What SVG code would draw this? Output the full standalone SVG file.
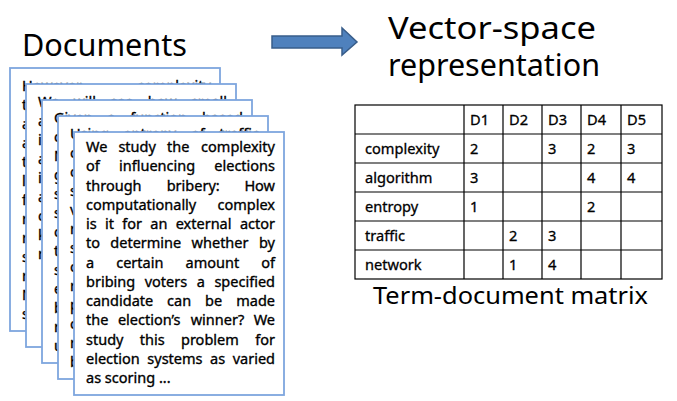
<svg xmlns="http://www.w3.org/2000/svg" width="677" height="401" viewBox="0 0 677 401">
<style>
.title{font-family:"Noto Sans","Open Sans",sans-serif;fill:#000}
.page{fill:#fff;stroke:#7EA6DE;stroke-width:1.8}
.pt{font-family:"Noto Sans","Open Sans",sans-serif;font-size:14.5px;fill:#000;stroke:#000;stroke-width:0.35}
.e{text-anchor:end}
.grid{stroke:#000;stroke-width:1.2;fill:none}
.tt{font-family:"Noto Sans","Open Sans",sans-serif;font-size:14.6px;fill:#000;stroke:#000;stroke-width:0.3}
</style>
<rect width="677" height="401" fill="#fff"/>
<text class="title" x="22" y="56" font-size="30" textLength="165" lengthAdjust="spacingAndGlyphs">Documents</text>
<text class="title" x="388" y="39" font-size="30" textLength="208" lengthAdjust="spacingAndGlyphs">Vector-space</text>
<text class="title" x="388" y="76" font-size="30" textLength="212" lengthAdjust="spacingAndGlyphs">representation</text>
<g id="arrow">
<polygon points="272,36 342,36 342,28 357,42 342,55 342,48 272,48" fill="#4F81BD" stroke="#385D8A" stroke-width="1.5"/>
</g>
<g id="doc1">
<rect class="page" x="10" y="68" width="210" height="263"/>
<text class="pt" x="22" y="91">However</text>
<text class="pt e" x="211" y="91">complexity</text>
<text class="pt"><tspan x="22" y="110">t</tspan><tspan x="22" y="129">a</tspan><tspan x="22" y="148">a</tspan><tspan x="22" y="167">t</tspan><tspan x="22" y="186">l</tspan><tspan x="22" y="205">f</tspan><tspan x="22" y="224">r</tspan><tspan x="22" y="243">r</tspan><tspan x="22" y="262">s</tspan><tspan x="22" y="281">r</tspan><tspan x="22" y="300">N</tspan><tspan x="22" y="319">s</tspan></text>
</g>
<g id="doc2">
<rect class="page" x="26" y="84" width="210" height="263"/>
<text class="pt" y="107"><tspan x="38">We</tspan><tspan x="73.4">will</tspan><tspan x="110.2">see</tspan><tspan x="147.7">how</tspan></text>
<text class="pt e" x="227" y="107">small</text>
<text class="pt"><tspan x="38" y="126">a</tspan><tspan x="38" y="145">i</tspan><tspan x="38" y="164">a</tspan><tspan x="38" y="183">i</tspan><tspan x="38" y="202">a</tspan><tspan x="38" y="221">c</tspan><tspan x="38" y="240">k</tspan><tspan x="38" y="259">r</tspan></text>
</g>
<g id="doc3">
<rect class="page" x="42" y="100" width="210" height="263"/>
<text class="pt" y="123"><tspan x="54">Given</tspan><tspan x="107.3">a</tspan><tspan x="130.3">function</tspan></text>
<text class="pt e" x="243" y="123">based</text>
<text class="pt"><tspan x="54" y="142">c</tspan><tspan x="54" y="161">N</tspan><tspan x="54" y="180">g</tspan><tspan x="54" y="199">s</tspan><tspan x="54" y="218">s</tspan><tspan x="54" y="237">c</tspan><tspan x="54" y="256">t</tspan><tspan x="54" y="275">s</tspan><tspan x="54" y="294">e</tspan><tspan x="54" y="313">b</tspan><tspan x="54" y="332">r</tspan><tspan x="54" y="351">u</tspan></text>
</g>
<g id="doc4">
<rect class="page" x="58" y="116" width="210" height="263"/>
<text class="pt" y="139"><tspan x="70">Using</tspan><tspan x="123.4">entropy</tspan><tspan x="191">of</tspan></text>
<text class="pt e" x="259" y="139">traffic</text>
<text class="pt"><tspan x="70" y="158">c</tspan><tspan x="70" y="177">c</tspan><tspan x="70" y="196">s</tspan><tspan x="70" y="215">v</tspan><tspan x="70" y="234">r</tspan><tspan x="70" y="253">s</tspan><tspan x="70" y="272">c</tspan><tspan x="70" y="291">r</tspan><tspan x="70" y="310">p</tspan><tspan x="70" y="329">c</tspan><tspan x="70" y="348">r</tspan><tspan x="70" y="367">b</tspan></text>
</g>
<g id="doc5">
<rect class="page" x="74" y="132" width="210" height="263"/>
<text class="pt" y="152"><tspan x="86">We</tspan><tspan x="118.4">study</tspan><tspan x="167.1">the</tspan></text><text class="pt e" x="275" y="152">complexity</text>
<text class="pt" y="171.25"><tspan x="86">of</tspan><tspan x="119">influencing</tspan></text><text class="pt e" x="275" y="171.25">elections</text>
<text class="pt" y="190.5"><tspan x="86">through</tspan><tspan x="166.7">bribery:</tspan></text><text class="pt e" x="275" y="190.5">How</text>
<text class="pt" y="209.75"><tspan x="86">computationally</tspan></text><text class="pt e" x="275" y="209.75">complex</text>
<text class="pt" y="229"><tspan x="86">is</tspan><tspan x="105">it</tspan><tspan x="122.3">for</tspan><tspan x="150.3">an</tspan><tspan x="175.7">external</tspan></text><text class="pt e" x="275" y="229">actor</text>
<text class="pt" y="248.25"><tspan x="86">to</tspan><tspan x="110.3">determine</tspan><tspan x="191.6">whether</tspan></text><text class="pt e" x="275" y="248.25">by</text>
<text class="pt" y="267.5"><tspan x="86">a</tspan><tspan x="116.2">certain</tspan><tspan x="185.5">amount</tspan></text><text class="pt e" x="275" y="267.5">of</text>
<text class="pt" y="286.75"><tspan x="86">bribing</tspan><tspan x="144.7">voters</tspan><tspan x="196.7">a</tspan></text><text class="pt e" x="275" y="286.75">specified</text>
<text class="pt" y="306"><tspan x="86">candidate</tspan><tspan x="167.1">can</tspan><tspan x="205.1">be</tspan></text><text class="pt e" x="275" y="306">made</text>
<text class="pt" y="325.25"><tspan x="86">the</tspan><tspan x="117.9">election’s</tspan><tspan x="190.7">winner?</tspan></text><text class="pt e" x="275" y="325.25">We</text>
<text class="pt" y="344.5"><tspan x="86">study</tspan><tspan x="139.8">this</tspan><tspan x="181">problem</tspan></text><text class="pt e" x="275" y="344.5">for</text>
<text class="pt" y="363.75"><tspan x="86">election</tspan><tspan x="147.3">systems</tspan><tspan x="210">as</tspan></text><text class="pt e" x="275" y="363.75">varied</text>
<text class="pt" x="86" y="383">as scoring ...</text>
</g>
<g id="matrix">
<rect class="grid" x="355" y="105" width="307" height="174"/>
<path class="grid" d="M355,134H662M355,163H662M355,192H662M355,221H662M355,250H662M464,105V279M503,105V279M542,105V279M581,105V279M621,105V279"/>
<g class="tt">
<text x="470" y="125">D1</text><text x="509" y="125">D2</text><text x="548" y="125">D3</text><text x="587" y="125">D4</text><text x="627" y="125">D5</text>
<text x="365" y="154">complexity</text><text x="470" y="154">2</text><text x="548" y="154">3</text><text x="587" y="154">2</text><text x="627" y="154">3</text>
<text x="365" y="183">algorithm</text><text x="470" y="183">3</text><text x="587" y="183">4</text><text x="627" y="183">4</text>
<text x="365" y="212">entropy</text><text x="470" y="212">1</text><text x="587" y="212">2</text>
<text x="365" y="241">traffic</text><text x="509" y="241">2</text><text x="548" y="241">3</text>
<text x="365" y="270">network</text><text x="509" y="270">1</text><text x="548" y="270">4</text>
</g>
<text class="title" x="373" y="304" font-size="24" textLength="275" lengthAdjust="spacingAndGlyphs">Term-document matrix</text>
</g>
</svg>
